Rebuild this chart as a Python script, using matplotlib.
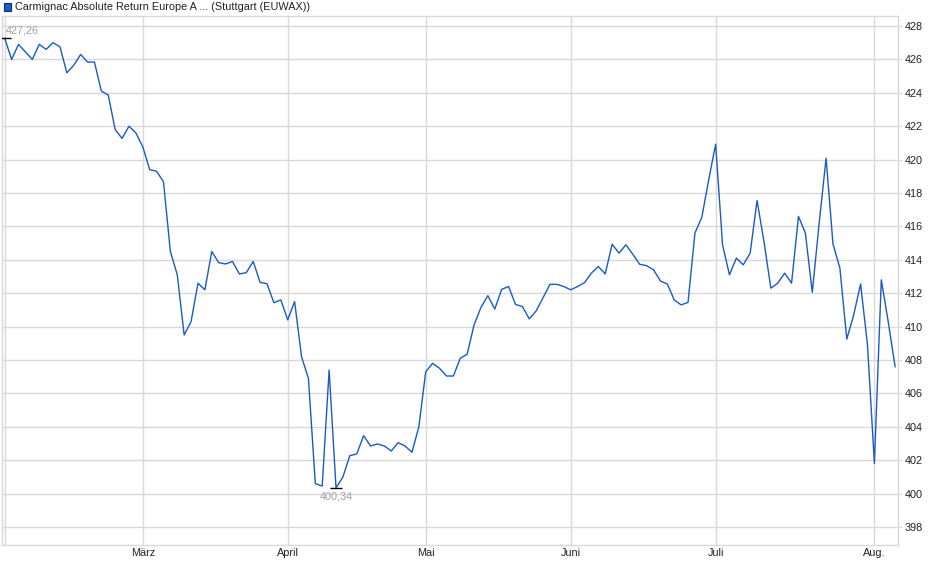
import matplotlib
matplotlib.use("Agg")
import matplotlib.pyplot as plt
from matplotlib.patches import Rectangle

plt.rcParams['font.family'] = ['Liberation Sans', 'DejaVu Sans']

title = "Carmignac Absolute Return Europe A ... (Stuttgart (EUWAX))"

prices = [
    427.26, 426.0, 426.9, 426.45, 426.0, 426.9, 426.6, 427.0, 426.76, 425.2,
    425.65, 426.3, 425.84, 425.84, 424.1, 423.87, 421.8, 421.27, 422.0, 421.6,
    420.77, 419.4, 419.3, 418.68, 414.5, 413.1, 409.5, 410.3, 412.6, 412.2,
    414.5, 413.83, 413.75, 413.9, 413.15, 413.23, 413.9, 412.65, 412.57, 411.43,
    411.6, 410.4, 411.5, 408.2, 406.9, 400.6, 400.45, 407.4, 400.34, 401.0,
    402.27, 402.37, 403.47, 402.85, 402.97, 402.85, 402.55, 403.05, 402.85, 402.47,
    404.0, 407.3, 407.8, 407.5, 407.04, 407.04, 408.1, 408.35, 410.1, 411.15,
    411.85, 411.05, 412.23, 412.4, 411.33, 411.2, 410.46, 410.94, 411.73, 412.53,
    412.53, 412.4, 412.2, 412.4, 412.63, 413.2, 413.6, 413.15, 414.93, 414.4,
    414.9, 414.33, 413.73, 413.65, 413.4, 412.73, 412.55, 411.6, 411.3, 411.45,
    415.6, 416.55, 418.8, 420.92, 414.9, 413.1, 414.1, 413.7, 414.4, 417.55,
    415.1, 412.3, 412.6, 413.2, 412.6, 416.6, 415.6, 412.05, 416.2, 420.08,
    414.95, 413.5, 409.25, 410.7, 412.55, 408.9, 401.8, 412.8, 410.3, 407.6,
]

month_labels = ["März", "April", "Mai", "Juni", "Juli", "Aug."]
month_start_index = [20, 41, 61, 82, 103, 126]
y_ticks = list(range(398, 429, 2))

max_label = "427,26"
min_label = "400,34"

W, H = 940, 579
fig = plt.figure(figsize=(W / 100, H / 100), dpi=100)
ax = fig.add_axes([2.3 / W, 1 - 545 / H, (898 - 2.3) / W, (545 - 16) / H])

grid_c = "#d9d9d9"
line_c = "#1a5ac8"
text_c = "#222222"
fs = 7.85

idx = list(range(len(prices)))
ax.plot(idx, prices, color=line_c, lw=1.0, zorder=3)

ax.set_xlim(-0.35, 129.42)
ax.set_ylim(396.92, 428.6)

ax.set_xticks(month_start_index)
ax.set_xticklabels(month_labels)
ax.set_yticks(y_ticks)
ax.set_yticklabels([str(v) for v in y_ticks])

ax.yaxis.tick_right()
ax.grid(True, color=grid_c, lw=1.0, zorder=0)
ax.axvline(0, color=grid_c, lw=1.0, zorder=0)
for s in ax.spines.values():
    s.set_color(grid_c)
    s.set_linewidth(1.0)

ax.tick_params(axis='y', which='both', length=3, color=grid_c, labelsize=fs,
               labelcolor=text_c, pad=2)
ax.tick_params(axis='x', which='both', length=0, labelsize=fs,
               labelcolor=text_c, pad=2.5)

# max / min markers
imax = prices.index(max(prices))
imin = prices.index(min(prices))
ax.plot([imax], [prices[imax]], marker='_', color='black', ms=9, mew=1.0, zorder=4)
ax.plot([imin], [prices[imin]], marker='_', color='black', ms=9, mew=1.0, zorder=4)
ax.annotate(max_label, (imax, prices[imax]), xytext=(1, 2), textcoords='offset points',
            ha='left', va='bottom', fontsize=fs, color='#a0a0a0')
ax.annotate(min_label, (imin, prices[imin]), xytext=(0, -2.5), textcoords='offset points',
            ha='center', va='top', fontsize=fs, color='#a0a0a0')

# legend-like header
fig.patches.append(Rectangle((3.5 / W, 1 - 11 / H), 7.5 / W, 8 / H, transform=fig.transFigure,
                             facecolor='#1f5fc4', edgecolor='#0d2c6e', lw=0.8))
fig.text(15 / W, 1 - 7 / H, title, ha='left', va='center', fontsize=fs, color=text_c)

fig.savefig("out.png", dpi=100)
